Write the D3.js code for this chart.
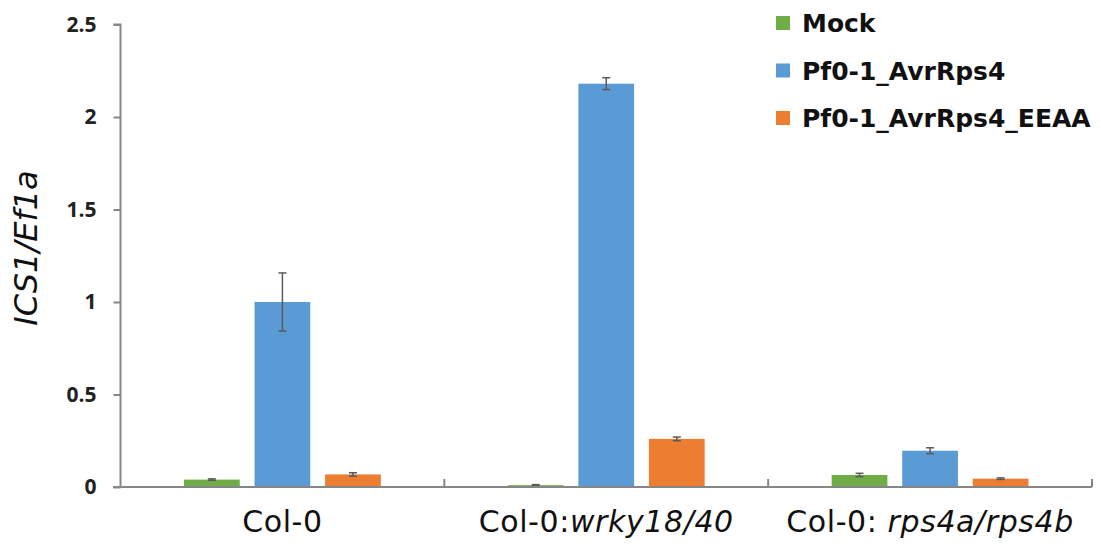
<!DOCTYPE html>
<html>
<head>
<meta charset="utf-8">
<script src="https://cdn.jsdelivr.net/npm/d3@7"></script>
<style>
  html, body { margin: 0; padding: 0; background: #fff; }
  svg { display: block; }
</style>
</head>
<body>
<svg id="chart" width="1101" height="546"></svg>
<script>
// Genotypes on the x axis: plain prefix plus italic mutant name
const categoryPrefix = ["Col-0", "Col-0:", "Col-0: "];
const categoryMutant = ["", "wrky18/40", "rps4a/rps4b"];

// Treatments
const seriesNames = ["Mock", "Pf0-1_AvrRps4", "Pf0-1_AvrRps4_EEAA"];
const seriesColors = ["#70ad47", "#5b9bd5", "#ed7d31"];

// ICS1/Ef1a relative expression (mean and error) per genotype
const mockValues = [0.04, 0.01, 0.065];
const mockErrors = [0.004, 0.003, 0.009];
const avrValues = [1.0, 2.18, 0.196];
const avrErrors = [0.157, 0.032, 0.016];
const eeaaValues = [0.068, 0.26, 0.045];
const eeaaErrors = [0.009, 0.01, 0.004];

const yTicks = [0, 0.5, 1, 1.5, 2, 2.5];
const yTickLabels = ["0", "0.5", "1", "1.5", "2", "2.5"];

const seriesValues = [mockValues, avrValues, eeaaValues];
const seriesErrors = [mockErrors, avrErrors, eeaaErrors];

const svg = d3.select("#chart");
const axisColor = "#868686";

const x0 = d3.scaleBand()
  .domain(d3.range(categoryPrefix.length))
  .range([120.5, 1092])
  .padding(0);

const x1 = d3.scaleBand()
  .domain(d3.range(seriesNames.length))
  .range([0, x0.bandwidth()])
  .paddingInner(0.21)
  .paddingOuter(0.9);

const y = d3.scaleLinear().domain([0, 2.5]).range([487, 24.5]);

// Bars
const rows = [];
seriesNames.forEach((s, si) => {
  categoryPrefix.forEach((c, ci) => {
    rows.push({ si, ci, v: seriesValues[si][ci], e: seriesErrors[si][ci] });
  });
});

svg.append("g").selectAll("rect")
  .data(rows)
  .join("rect")
  .attr("x", d => x0(d.ci) + x1(d.si))
  .attr("y", d => y(d.v))
  .attr("width", x1.bandwidth())
  .attr("height", d => y(0) - y(d.v))
  .attr("fill", d => seriesColors[d.si]);

// Error bars
const eb = svg.append("g")
  .attr("stroke", "#5a5a5a")
  .attr("stroke-width", 1.5)
  .attr("fill", "none");
rows.forEach(d => {
  const cx = x0(d.ci) + x1(d.si) + x1.bandwidth() / 2;
  const top = y(d.v + d.e), bot = y(d.v - d.e);
  eb.append("line").attr("x1", cx).attr("x2", cx).attr("y1", top).attr("y2", bot);
  eb.append("line").attr("x1", cx - 4).attr("x2", cx + 4).attr("y1", top).attr("y2", top);
  eb.append("line").attr("x1", cx - 4).attr("x2", cx + 4).attr("y1", bot).attr("y2", bot);
});

// Y axis
const yAxis = svg.append("g")
  .attr("transform", "translate(120.5,0)")
  .call(d3.axisLeft(y).tickValues(yTicks).tickFormat((d, i) => yTickLabels[i]).tickSize(7).tickPadding(17));
yAxis.select(".domain").attr("stroke", axisColor).attr("stroke-width", 2).attr("d", `M-7,${y(2.5)}H0V${y(0)}`);
yAxis.selectAll(".tick line").attr("stroke", axisColor).attr("stroke-width", 2);
yAxis.selectAll(".tick text")
  .attr("fill", "#222")
  .style("font-family", "'Open Sans', sans-serif")
  .style("font-weight", "bold")
  .style("font-size", "21px");

// X axis baseline with category separators pointing up
const xg = svg.append("g").attr("stroke", axisColor).attr("stroke-width", 2);
xg.append("line").attr("x1", 113).attr("x2", x0.range()[1]).attr("y1", y(0)).attr("y2", y(0));
const bounds = categoryPrefix.map((c, i) => x0(i)).slice(1).concat([x0.range()[1]]);
xg.selectAll("line.sep").data(bounds).join("line")
  .attr("class", "sep")
  .attr("x1", d => d).attr("x2", d => d)
  .attr("y1", y(0)).attr("y2", y(0) - 8);

// Category labels
const labels = svg.append("g")
  .style("font-family", "'DejaVu Sans', sans-serif")
  .style("font-size", "30px")
  .attr("fill", "#111");
categoryPrefix.forEach((p, i) => {
  const t = labels.append("text")
    .attr("x", x0(i) + x0.bandwidth() / 2)
    .attr("y", 532)
    .attr("text-anchor", "middle")
    .style("letter-spacing", "0.6px");
  t.append("tspan").text(p);
  if (categoryMutant[i]) t.append("tspan").style("font-style", "italic").text(categoryMutant[i]);
});

// Y axis title
svg.append("text")
  .attr("transform", "translate(37,248) rotate(-90)")
  .attr("text-anchor", "middle")
  .style("font-family", "'DejaVu Sans', sans-serif")
  .style("font-style", "italic")
  .style("font-size", "32px")
  .attr("fill", "#111")
  .text("ICS1/Ef1a");

// Legend
const legend = svg.append("g");
seriesNames.forEach((s, i) => {
  const by = 32 + i * 47.5;
  legend.append("rect")
    .attr("x", 776).attr("y", by - 16)
    .attr("width", 14).attr("height", 14)
    .attr("fill", seriesColors[i]);
  legend.append("text")
    .attr("x", 802).attr("y", by)
    .style("font-family", "'DejaVu Sans', sans-serif")
    .style("font-weight", "bold")
    .style("font-size", "25px")
    .attr("fill", "#111")
    .text(s);
});
</script>
</body>
</html>
